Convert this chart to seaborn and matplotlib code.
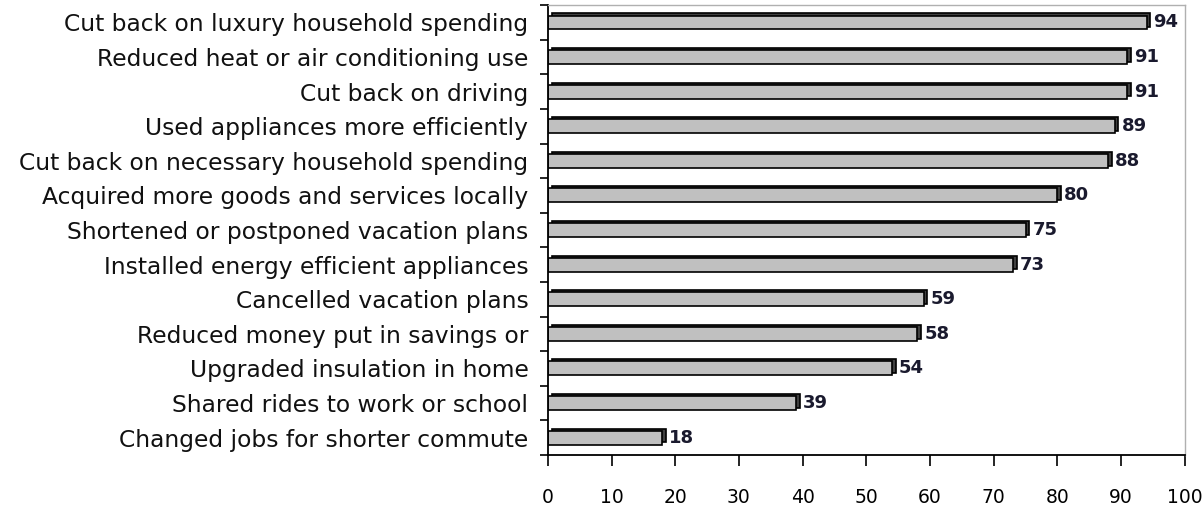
import pandas as pd
import matplotlib.pyplot as plt
import seaborn as sns
from matplotlib.ticker import FixedLocator

categories = [
    "Cut back on luxury household spending",
    "Reduced heat or air conditioning use",
    "Cut back on driving",
    "Used appliances more efficiently",
    "Cut back on necessary household spending",
    "Acquired more goods and services locally",
    "Shortened or postponed vacation plans",
    "Installed energy efficient appliances",
    "Cancelled vacation plans",
    "Reduced money put in savings or",
    "Upgraded insulation in home",
    "Shared rides to work or school",
    "Changed jobs for shorter commute",
]
values = [94, 91, 91, 89, 88, 80, 75, 73, 59, 58, 54, 39, 18]

df = pd.DataFrame({"action": categories, "pct": values})

sns.set_style("white")
plt.rcParams["font.family"] = ["DejaVu Sans"]

fig = plt.figure(figsize=(12.04, 5.14), dpi=100)
ax = fig.add_axes([0.455, 0.115, 0.529, 0.875])

# darker bars behind, shifted a bit, to fake the 3D edge
sns.barplot(data=df, x="pct", y="action", color="#404040", width=0.4,
            ax=ax, edgecolor="black", linewidth=1.2)
for p in ax.patches:
    p.set_x(p.get_x() + 0.6)
    p.set_y(p.get_y() - 0.06)

sns.barplot(data=df, x="pct", y="action", color="#c0c0c0", width=0.4,
            ax=ax, edgecolor="black", linewidth=1.2)
front = ax.containers[-1]
ax.bar_label(front, labels=[str(v) for v in values], padding=5,
             fontsize=13, fontweight="bold", color="#1a1a2e")

ax.set_xlim(0, 100)
ax.set_ylim(len(categories) - 0.5, -0.5)
ax.set_xticks(range(0, 101, 10))
ax.set_xlabel("")
ax.set_ylabel("")
ax.tick_params(axis="x", bottom=True, direction="out", length=8, width=1.2,
               pad=16, labelsize=13.5, colors="black")
ax.tick_params(axis="y", which="major", left=False, length=0, pad=14,
               labelsize=16.8, labelcolor="#111111")
ax.yaxis.set_minor_locator(FixedLocator([i + 0.5 for i in range(-1, len(categories))]))
ax.tick_params(axis="y", which="minor", left=True, direction="out", length=6,
               width=1.2, color="black")

for s in ["left", "bottom"]:
    ax.spines[s].set_color("black")
    ax.spines[s].set_linewidth(1.3)
for s in ["top", "right"]:
    ax.spines[s].set_color("#b0b0b0")
    ax.spines[s].set_linewidth(1)

fig.savefig("out.png", dpi=100)
